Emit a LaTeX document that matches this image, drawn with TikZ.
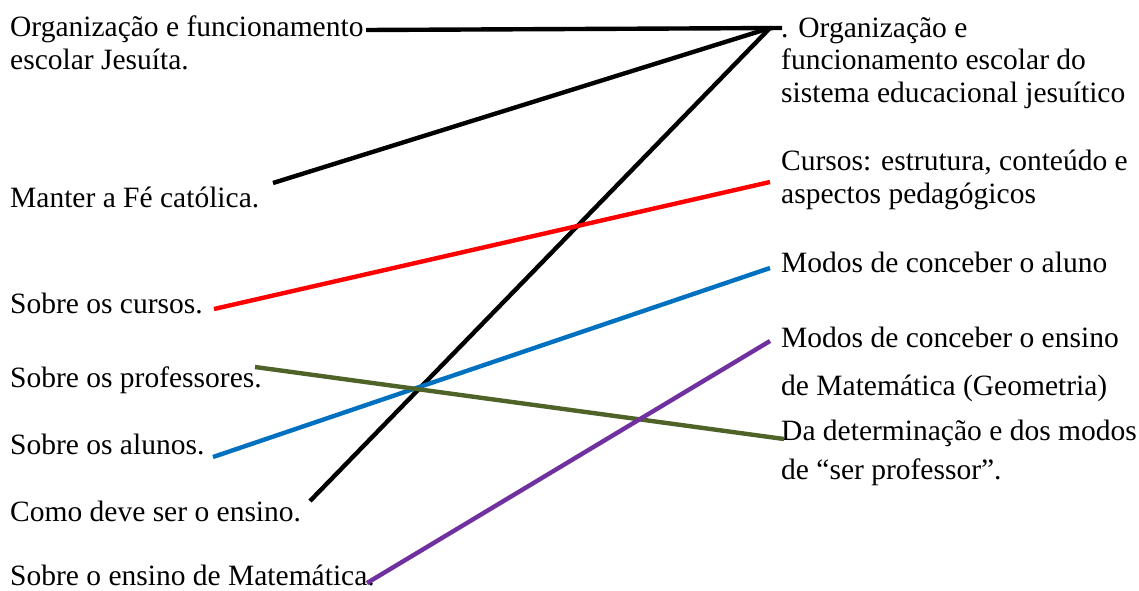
\documentclass[tikz,border=0pt]{standalone}
\usepackage{fontspec}
\setmainfont{Liberation Serif}
\usetikzlibrary{positioning}
\definecolor{linkRed}{RGB}{255,0,0}
\definecolor{linkBlue}{RGB}{0,112,192}
\definecolor{linkOlive}{RGB}{79,98,40}
\definecolor{linkPurple}{RGB}{112,48,160}
\tikzset{
	itemText/.style={
		anchor=base west,
		inner sep=0pt,
		align=left,
		font=\fontsize{29.5}{32.5}\selectfont
	},
	itemLink/.style={line width=4.4pt},
	itemBlack/.style={itemLink, black},
	itemRed/.style={itemLink, linkRed},
	itemBlue/.style={itemLink, linkBlue},
	itemOlive/.style={itemLink, linkOlive},
	itemPurple/.style={itemLink, linkPurple}
}
\begin{document}
\begin{tikzpicture}[x=1pt,y=-1pt]
	\useasboundingbox (0,0) rectangle (1139,590);

	% Left column (base = last line)
	\node[itemText] (jesuita) at (10,69) {Organização e funcionamento\\escolar Jesuíta.};
	\node[itemText] (fe) at (10,207) {Manter a Fé católica.};
	\node[itemText] (cursos) at (10,313) {Sobre os cursos.};
	\node[itemText] (professores) at (10,387) {Sobre os professores.};
	\node[itemText] (alunos) at (10,454) {Sobre os alunos.};
	\node[itemText] (ensino) at (10,521) {Como deve ser o ensino.};
	\node[itemText] (matematica) at (10,585) {Sobre o ensino de Matemática.};

	% Right column (base = last line)
	\node[itemText] (organizacao) at (781,102) {. Organização e\\funcionamento escolar do\\sistema educacional jesuítico};
	\node[itemText] (estrutura) at (781,203) {Cursos: estrutura, conteúdo e\\aspectos pedagógicos};
	\node[itemText] (aluno) at (781,272) {Modos de conceber o aluno};
	\node[itemText] (geometria) at (781,395) {Modos de conceber o ensino\\[15.5pt]de Matemática (Geometria)};
	\node[itemText] (serprof) at (781,479) {Da determinação e dos modos\\[6pt]de “ser professor”.};

	% Line ends
	\coordinate (jesuitaE) at (366,30);
	\coordinate (feE) at (273,183);
	\coordinate (cursosE) at (214,309);
	\coordinate (professoresE) at (255,367);
	\coordinate (alunosE) at (213,457);
	\coordinate (ensinoE) at (310,501);
	\coordinate (matematicaE) at (367,583);
	\coordinate (organizacaoW) at (770,28);
	\coordinate (organizacaoT) at (782,28);
	\coordinate (estruturaW) at (770,182);
	\coordinate (alunoW) at (770,268);
	\coordinate (geometriaW) at (770,341);
	\coordinate (serprofW) at (784,439);

	% Links
	\draw[itemBlack] (jesuitaE) -- (organizacaoT);
	\draw[itemBlack] (feE) -- (organizacaoW);
	\draw[itemBlack] (ensinoE) -- (organizacaoW);
	\draw[itemRed] (cursosE) -- (estruturaW);
	\draw[itemBlue] (alunosE) -- (alunoW);
	\draw[itemOlive] (professoresE) -- (serprofW);
	\draw[itemPurple] (matematicaE) -- (geometriaW);
\end{tikzpicture}
\end{document}
